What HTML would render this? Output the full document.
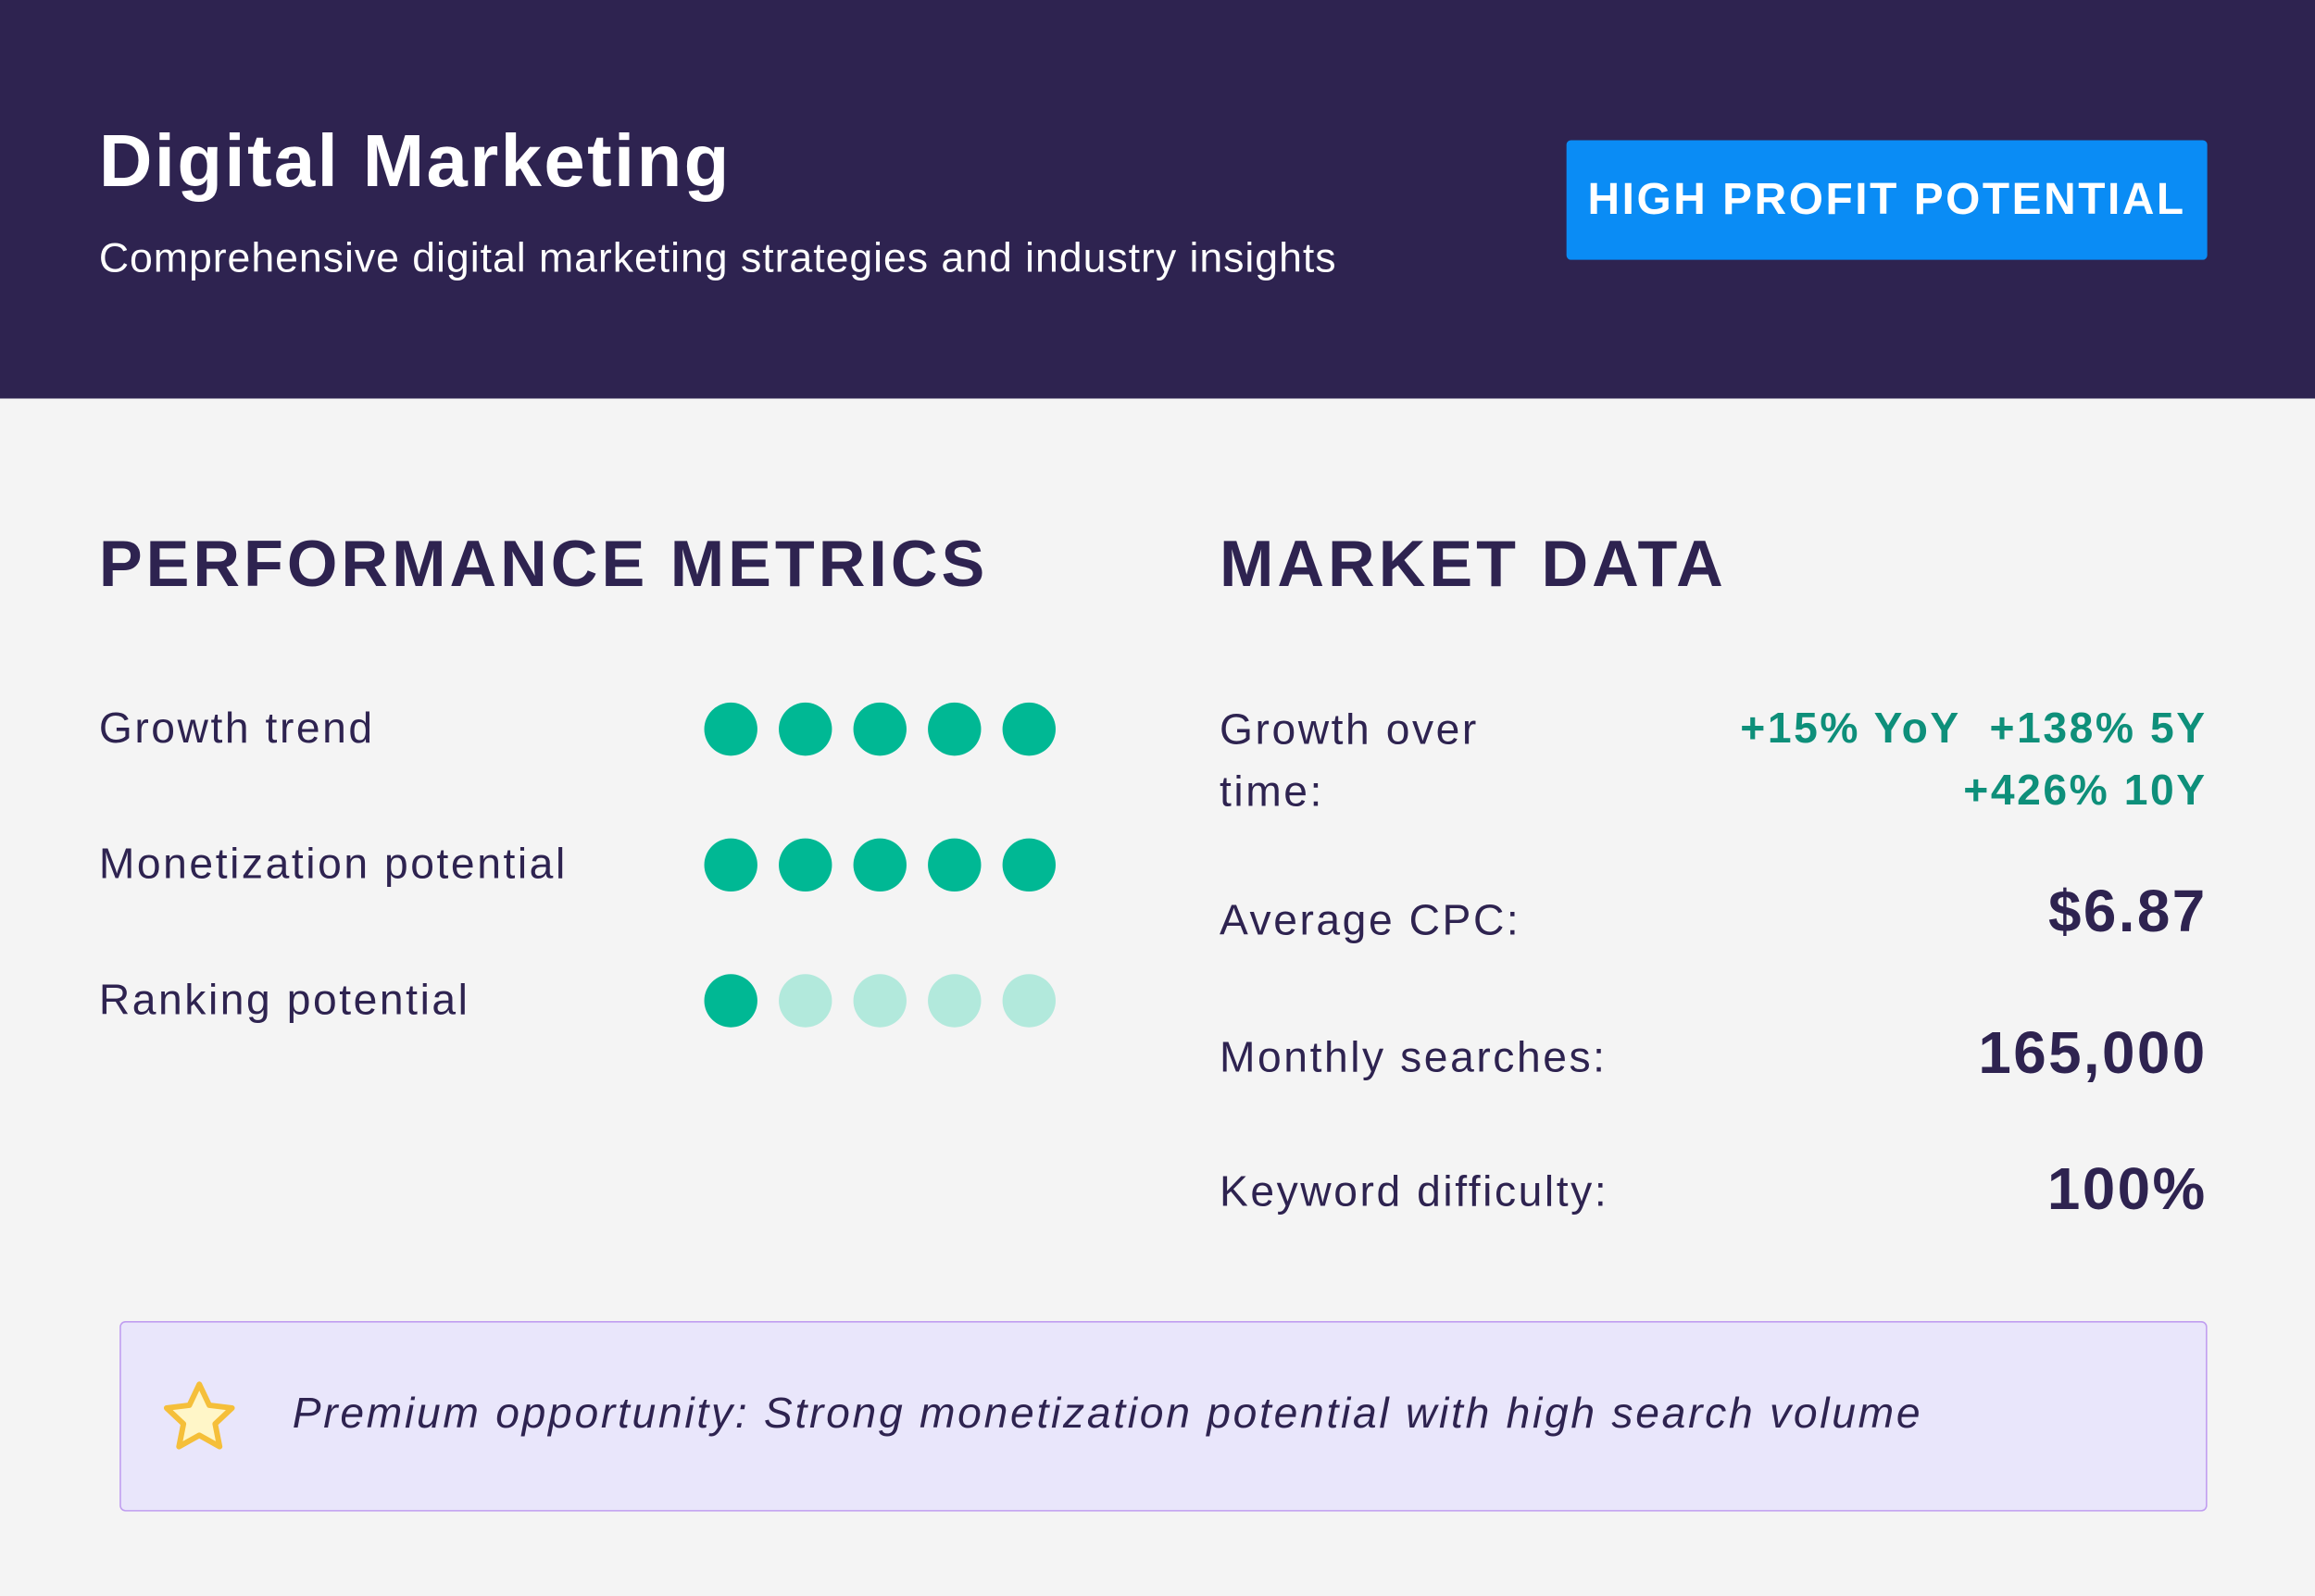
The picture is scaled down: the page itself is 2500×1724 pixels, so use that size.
<!DOCTYPE html>
<html><head><meta charset="utf-8">
<style>
html,body{margin:0;padding:0;width:2500px;height:1724px;overflow:hidden;background:#f4f4f4}
#wrap{position:absolute;left:0;top:0;width:1568px;height:1081px;transform:scale(1.5944);transform-origin:0 0;font-family:"Liberation Sans",sans-serif;background:#f4f4f4}
.abs{position:absolute;white-space:nowrap}
.lbl{font-size:29px;color:#2e2350;letter-spacing:1.6px;line-height:1}
.val{font-size:40px;font-weight:bold;color:#2e2350;letter-spacing:1.5px;right:73px;line-height:1}
.grn{font-size:29px;font-weight:bold;color:#0e8f7a;letter-spacing:1.6px;right:73px;line-height:1}
.h2{font-size:44px;font-weight:bold;color:#2e2350;letter-spacing:2.5px;line-height:1}
</style></head><body>
<div id="wrap">
<div class="abs" style="left:0;top:0;width:1568px;height:270px;background:#2e2350"></div>
<div class="abs" style="left:67px;top:84px;font-size:50px;font-weight:bold;color:#fff;letter-spacing:1.5px;line-height:1">Digital Marketing</div>
<div class="abs" style="left:67px;top:161px;font-size:28px;color:#fff;letter-spacing:0.6px;line-height:1">Comprehensive digital marketing strategies and industry insights</div>
<div class="abs" style="left:1061px;top:95px;width:434px;height:81px;background:#0a8cf5;border-radius:3px;color:#fff;font-size:30px;font-weight:bold;letter-spacing:1.6px;display:flex;align-items:center;justify-content:center">HIGH PROFIT POTENTIAL</div>

<div class="abs h2" style="left:67px;top:361px">PERFORMANCE METRICS</div>
<div class="abs h2" style="left:826px;top:361px">MARKET DATA</div>

<div class="abs lbl" style="left:67px;top:480px">Growth trend</div>
<div class="abs lbl" style="left:67px;top:572px">Monetization potential</div>
<div class="abs lbl" style="left:67px;top:664px">Ranking potential</div>
<svg id="dots" class="abs" style="left:0;top:0" width="800" height="800"></svg>

<div class="abs lbl" style="left:826px;top:480px;line-height:42px;white-space:normal;width:220px;top:474px">Growth over time:</div>
<div class="abs grn" style="top:480px">+15% YoY&nbsp; +138% 5Y</div>
<div class="abs grn" style="top:522px">+426% 10Y</div>
<div class="abs lbl" style="left:826px;top:610px">Average CPC:</div>
<div class="abs val" style="top:598px">$6.87</div>
<div class="abs lbl" style="left:826px;top:703px">Monthly searches:</div>
<div class="abs val" style="top:694px">165,000</div>
<div class="abs lbl" style="left:826px;top:794px">Keyword difficulty:</div>
<div class="abs val" style="top:786px">100%</div>

<div class="abs" style="left:81px;top:895px;width:1412px;height:127px;background:#e9e6fb;border:1px solid #c09ef0;border-radius:4px"></div>
<svg class="abs" style="left:107px;top:932px" width="56" height="56" viewBox="0 0 24 24"><path d="M12 2.5l2.9 6.1 6.6.8-4.9 4.6 1.3 6.6L12 17.3l-5.9 3.3 1.3-6.6-4.9-4.6 6.6-.8z" fill="#fff6c8" stroke="#f5bf3a" stroke-width="1.6" stroke-linejoin="round"/></svg>
<div class="abs" style="left:198px;top:944px;font-size:29px;font-style:italic;color:#2e2350;letter-spacing:1.7px;line-height:1">Premium opportunity: Strong monetization potential with high search volume</div>
</div>
<script>
const metrics=["Growth trend","Monetization potential","Ranking potential"];
const ratings=[5,5,1];
const maxRating=5;
const svg=document.getElementById('dots');
const NS="http://www.w3.org/2000/svg";
ratings.forEach((r,i)=>{
  for(let k=0;k<maxRating;k++){
    const c=document.createElementNS(NS,'circle');
    
    
    c.setAttribute('cx',495+k*50.5);
    c.setAttribute('cy',494+i*92);
    c.setAttribute('r',18);
    c.setAttribute('fill',k<r?'#00b894':'#b2e9dc');
    svg.appendChild(c);
  }
});
</script>
</body></html>
